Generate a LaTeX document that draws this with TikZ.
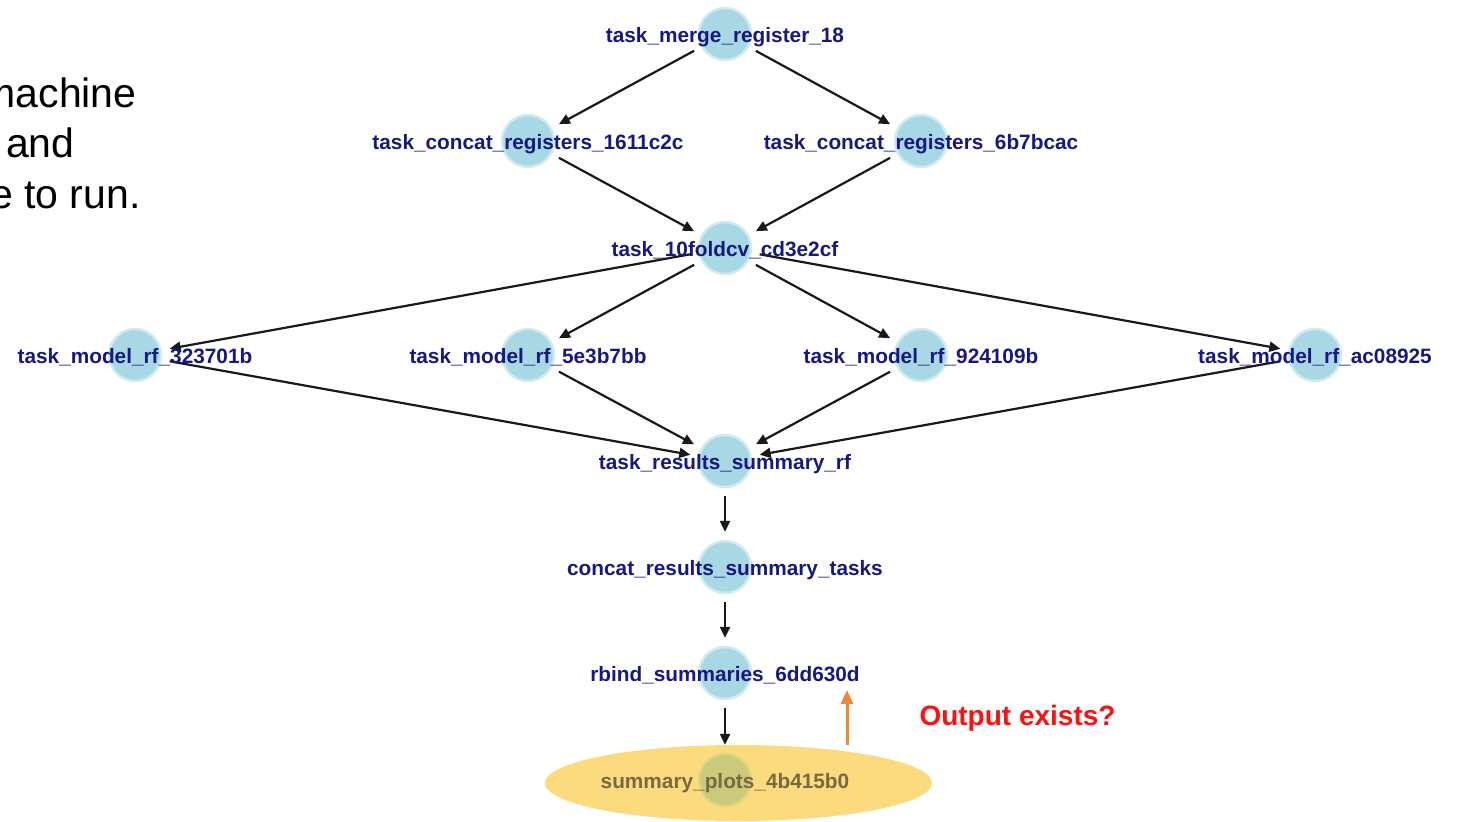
\documentclass[tikz,border=0pt]{standalone}
\usepackage{fontspec}
\setmainfont{Liberation Sans}
\usetikzlibrary{arrows.meta,shapes.geometric}
\definecolor{navy}{RGB}{24,24,132}
\definecolor{bubfill}{RGB}{169,216,229}
\definecolor{bubring}{RGB}{208,234,242}
\definecolor{goldfill}{RGB}{252,218,126}
\definecolor{olivefill}{RGB}{202,202,122}
\definecolor{olivering}{RGB}{220,214,128}
\definecolor{plottext}{RGB}{122,104,66}
\definecolor{edgecol}{RGB}{25,25,25}
\definecolor{orangearrow}{RGB}{238,136,56}
\definecolor{redtext}{RGB}{255,16,16}
\tikzset{
  bub/.style={circle, minimum size=26pt, inner sep=0pt, fill=bubfill, draw=bubring, line width=1.2pt},
  plotbub/.style={bub, fill=olivefill, draw=olivering},
  lbl/.style={anchor=base, inner sep=0pt, text=navy, font=\fontsize{10.4}{12}\selectfont\bfseries},
  plotlbl/.style={lbl, text=plottext},
  edge/.style={draw=edgecol, line width=1.1pt, shorten <=4pt, shorten >=4pt, -{Triangle[length=5.5pt,width=5pt]}},
  slidetxt/.style={anchor=base east, inner sep=0pt, text=black, font=\fontsize{20.5}{24}\selectfont},
  hintarrow/.style={draw=orangearrow, line width=1.5pt, -{Triangle[length=7pt,width=6pt]}},
  hinttxt/.style={anchor=base, inner sep=0pt, text=redtext, font=\fontsize{14}{16}\selectfont\bfseries}
}
\begin{document}
\begin{tikzpicture}[x=0.5pt,y=-0.5pt]
\fill[white] (0,0) rectangle (1457,821);
\useasboundingbox (0,0) rectangle (1457,821);
\clip (0,0) rectangle (1457,821);

% slide text fragments
\node[slidetxt] (t1) at (137,107) {machine};
\node[slidetxt] (t2) at (75,157) {and};
\node[slidetxt] (t3) at (141,208) {e to run.};

% final target ellipse
\node[ellipse, fill=goldfill, minimum width=193.5pt, minimum height=38pt, inner sep=0pt] (plotsbg) at (738.5,783) {};

% nodes
\node[bub] (merge) at (725,34) {};
\node[bub] (c1) at (528,141) {};
\node[bub] (c2) at (921,141) {};
\node[bub] (fold) at (725,248) {};
\node[bub] (m1) at (135,355) {};
\node[bub] (m2) at (528,355) {};
\node[bub] (m3) at (921,355) {};
\node[bub] (m4) at (1315,355) {};
\node[bub] (sum) at (725,461) {};
\node[bub] (cat) at (725,567) {};
\node[bub] (rb) at (725,673) {};
\node[plotbub] (plots) at (725,780) {};

% edges
\draw[edge] (merge) -- (c1);
\draw[edge] (merge) -- (c2);
\draw[edge] (c1) -- (fold);
\draw[edge] (c2) -- (fold);
\draw[edge] (fold) -- (m1);
\draw[edge] (fold) -- (m2);
\draw[edge] (fold) -- (m3);
\draw[edge] (fold) -- (m4);
\draw[edge] (m1) -- (sum);
\draw[edge] (m2) -- (sum);
\draw[edge] (m3) -- (sum);
\draw[edge] (m4) -- (sum);
\draw[edge] (sum) -- (cat);
\draw[edge] (cat) -- (rb);
\draw[edge] (rb) -- (plots);

% labels
\node[lbl] (merge-l) at (725,42) {task\_merge\_register\_18};
\node[lbl] (c1-l) at (528,149) {task\_concat\_registers\_1611c2c};
\node[lbl] (c2-l) at (921,149) {task\_concat\_registers\_6b7bcac};
\node[lbl] (fold-l) at (725,256) {task\_10foldcv\_cd3e2cf};
\node[lbl] (m1-l) at (135,363) {task\_model\_rf\_323701b};
\node[lbl] (m2-l) at (528,363) {task\_model\_rf\_5e3b7bb};
\node[lbl] (m3-l) at (921,363) {task\_model\_rf\_924109b};
\node[lbl] (m4-l) at (1315,363) {task\_model\_rf\_ac08925};
\node[lbl] (sum-l) at (725,469) {task\_results\_summary\_rf};
\node[lbl] (cat-l) at (725,575) {concat\_results\_summary\_tasks};
\node[lbl] (rb-l) at (725,681) {rbind\_summaries\_6dd630d};
\node[plotlbl] (plots-l) at (725,788) {summary\_plots\_4b415b0};

% hint
\coordinate (oa) at (847,745);
\coordinate (ob) at (847,690);
\draw[hintarrow] (oa) -- (ob);
\node[hinttxt] (q) at (1017.5,725) {Output exists?};
\end{tikzpicture}
\end{document}
